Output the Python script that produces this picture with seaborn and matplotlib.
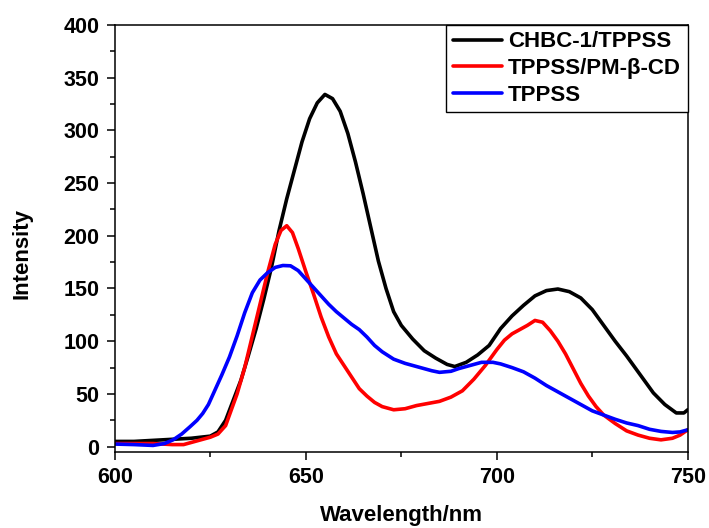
import numpy as np
import pandas as pd
import matplotlib
matplotlib.use("Agg")
import matplotlib.pyplot as plt
import seaborn as sns
from matplotlib.ticker import MultipleLocator

# values
chbc_wl = [600, 605, 610, 615, 620, 625, 627, 629, 631, 633, 635, 637, 639, 641, 643, 645,
           647, 649, 651, 653, 655, 657, 659, 661, 663, 665, 667, 669, 671, 673, 675, 678,
           681, 684, 687, 689, 692, 695, 698, 701, 704, 707, 710, 713, 716, 719, 722, 725,
           727, 731, 734, 737, 741, 744, 747, 749, 750]
chbc_int = [5, 5, 6, 7, 8, 10, 14, 25, 44, 63, 87, 112, 140, 170, 205, 235,
            262, 289, 311, 326, 334, 330, 318, 297, 270, 240, 208, 176, 150, 128, 115, 102,
            91, 84, 78, 76, 80, 87, 96, 112, 124, 134, 143, 148, 149.5, 147, 141, 130,
            120, 100, 86, 71, 51, 40, 32, 32, 35]

pm_wl = [600, 605, 610, 615, 618, 620, 622, 625, 627, 629, 630, 632, 634, 636, 638, 640,
         642, 643.5, 645, 646.5, 648, 650, 652, 654, 656, 658, 660, 662, 664, 666, 668, 670,
         673, 676, 679, 682, 685, 688, 691, 694, 697, 700, 702, 704, 706, 708, 710, 712, 714,
         716, 718, 720, 722, 724, 726, 728, 731, 734, 737, 740, 743, 746, 748, 750]
pm_int = [3, 3, 3, 2, 2, 4, 6, 9, 12, 20, 30, 50, 75, 105, 135, 165,
          192, 205, 209.5, 203, 188, 166, 145, 123, 104, 88, 77, 66, 55, 48, 42, 38,
          35, 36, 39, 41, 43, 47, 53, 64, 77, 92, 101, 107, 111, 115, 119.7, 118, 110,
          100, 88, 74, 60, 48, 38, 30, 22, 15, 11, 8, 6.5, 8, 11, 16]

tppss_wl = [600, 605, 610, 613, 615.3, 617.5, 619.7, 621.5, 623, 624.5, 626, 628, 630, 632,
            634, 636, 638, 640, 642, 644, 646, 648, 650, 652, 654, 656, 658, 660, 662, 664,
            666, 668, 670, 673, 676, 680, 683, 685, 688, 690, 693, 696, 699, 701, 704, 707,
            710, 713, 716, 719, 722, 725, 728, 731, 734, 737, 740, 743, 746, 748, 750]
tppss_int = [2.5, 2, 1.2, 3, 6.6, 12, 19, 25, 31.5, 40, 52, 68, 85, 105,
             127, 146, 158, 165, 170, 171.8, 171.5, 167, 159, 151, 143, 135, 128, 122, 116, 111,
             104, 96, 90, 83, 79, 75, 72, 70.5, 71.5, 74, 77, 80, 80, 78.5, 75, 71,
             65, 58, 52, 46, 40, 34, 30, 26, 22.5, 20, 16.5, 14.5, 13.5, 14, 16]

labels = ["CHBC-1/TPPSS", "TPPSS/PM-β-CD", "TPPSS"]
colors = ["#000000", "#ff0000", "#0000ff"]

df = pd.concat([
    pd.DataFrame({"wl": chbc_wl, "I": chbc_int, "sample": labels[0]}),
    pd.DataFrame({"wl": pm_wl, "I": pm_int, "sample": labels[1]}),
    pd.DataFrame({"wl": tppss_wl, "I": tppss_int, "sample": labels[2]}),
])

sns.set_style("ticks")
plt.rcParams['font.family'] = ['Liberation Sans', 'DejaVu Sans']
plt.rcParams['font.weight'] = 'bold'
plt.rcParams['text.color'] = 'black'
plt.rcParams['axes.labelcolor'] = 'black'
plt.rcParams['xtick.color'] = 'black'
plt.rcParams['ytick.color'] = 'black'

fig, ax = plt.subplots(figsize=(7.09, 5.28), dpi=100)
fig.subplots_adjust(left=0.162, right=0.970, top=0.953, bottom=0.144)

sns.lineplot(data=df, x="wl", y="I", hue="sample", palette=colors, hue_order=labels,
             linewidth=2.6, sort=False, estimator=None, ax=ax)

ax.set_xlim(600, 750)
ax.set_ylim(-5, 400)
ax.xaxis.set_major_locator(MultipleLocator(50))
ax.xaxis.set_minor_locator(MultipleLocator(25))
ax.yaxis.set_major_locator(MultipleLocator(50))
ax.yaxis.set_minor_locator(MultipleLocator(25))
ax.tick_params(which='major', length=6, width=1.1, labelsize=15.5, pad=5, direction='out')
ax.tick_params(which='minor', length=3.5, width=1.1, direction='out')
ax.tick_params(top=False, right=False, which='both')
for lab in ax.get_xticklabels() + ax.get_yticklabels():
    lab.set_fontweight('bold')
for sp in ax.spines.values():
    sp.set_visible(True)
    sp.set_linewidth(1.1)
    sp.set_color('black')

ax.set_xlabel("Wavelength/nm", fontsize=16, fontweight='bold', labelpad=12)
ax.set_ylabel("Intensity", fontsize=16, fontweight='bold')
ax.yaxis.set_label_coords(-0.143, 0.464)

leg = ax.legend(loc='upper right', borderaxespad=0, frameon=True, fancybox=False,
                prop={'size': 16, 'weight': 'bold'}, handlelength=2.2, handletextpad=0.3,
                labelspacing=0.25, borderpad=0.3)
leg.get_frame().set_edgecolor('black')
leg.get_frame().set_linewidth(1.0)
leg.get_frame().set_alpha(1)
for line in leg.get_lines():
    line.set_linewidth(2.6)

fig.savefig("out.png", dpi=100)
